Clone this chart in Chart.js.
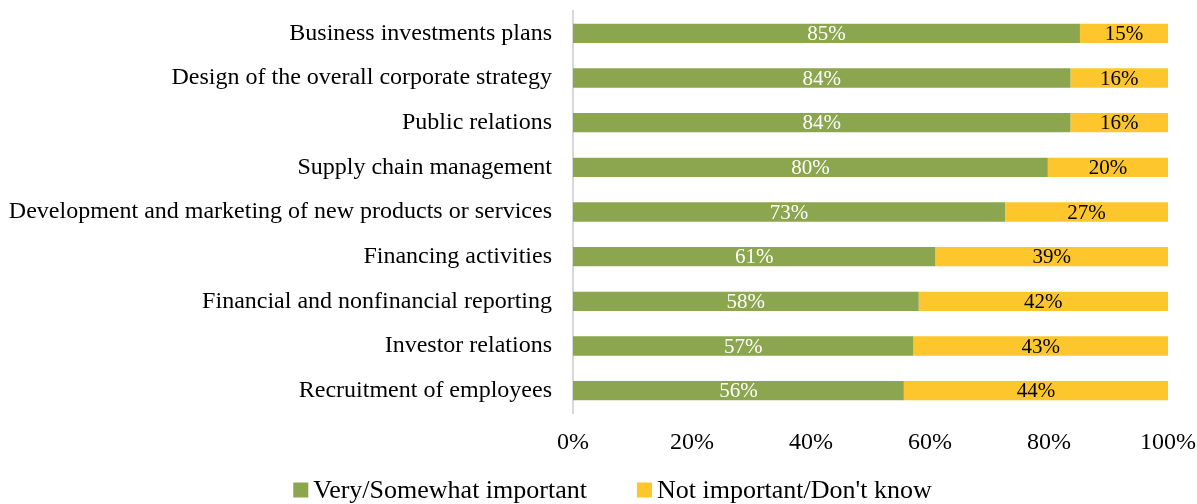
<!DOCTYPE html>
<html>
<head>
<meta charset="utf-8">
<script src="https://cdn.jsdelivr.net/npm/chart.js@4.4.1/dist/chart.umd.min.js"></script>
<style>
  html, body { margin: 0; padding: 0; background: #fff; }
  #wrap { width: 1197px; height: 504px; position: relative; }
</style>
</head>
<body>
<div id="wrap"><canvas id="c" width="1197" height="504"></canvas></div>
<script>
const categories = [
  "Business investments plans",
  "Design of the overall corporate strategy",
  "Public relations",
  "Supply chain management",
  "Development and marketing of new products or services",
  "Financing activities",
  "Financial and nonfinancial reporting",
  "Investor relations",
  "Recruitment of employees"
];
const seriesNames = ["Very/Somewhat important", "Not important/Don't know"];
const important = [85.2, 83.6, 83.6, 79.8, 72.6, 60.9, 58.1, 57.2, 55.6];
const notImportant = [14.8, 16.4, 16.4, 20.2, 27.4, 39.1, 41.9, 42.8, 44.4];
const xTicks = [0, 20, 40, 60, 80, 100];

const GREEN = '#8BA64E';
const YELLOW = '#FDC62D';
const SERIF = '"Liberation Serif", "Times New Roman", serif';

const dataLabelPlugin = {
  id: 'segLabels',
  afterDatasetsDraw(chart) {
    const ctx = chart.ctx;
    ctx.save();
    ctx.font = '21px ' + SERIF;
    ctx.textAlign = 'center';
    ctx.textBaseline = 'middle';
    chart.data.datasets.forEach((ds, di) => {
      const meta = chart.getDatasetMeta(di);
      ctx.fillStyle = di === 0 ? '#ffffff' : '#000000';
      meta.data.forEach((el, i) => {
        const p = el.getCenterPoint();
        ctx.fillText(Math.round(ds.data[i]) + '%', p.x, p.y + 1);
      });
    });
    ctx.restore();
  }
};

const legendPlugin = {
  id: 'customLegend',
  afterDraw(chart) {
    const ctx = chart.ctx;
    ctx.save();
    ctx.font = '26px ' + SERIF;
    ctx.textBaseline = 'middle';
    ctx.textAlign = 'left';
    const box = 15, gapText = 5, gapItem = 50;
    const items = chart.data.datasets.map(ds => ({ text: ds.label, color: ds.backgroundColor, w: ctx.measureText(ds.label).width }));
    let total = 0;
    items.forEach((it, i) => { total += box + gapText + it.w + (i < items.length - 1 ? gapItem : 0); });
    const cx = chart.width / 2 + 14;
    let x = cx - total / 2;
    const y = chart.height - 13;
    items.forEach(it => {
      ctx.fillStyle = it.color;
      ctx.fillRect(x, y - box / 2 - 1, box, box);
      x += box + gapText;
      ctx.fillStyle = '#000';
      ctx.fillText(it.text, x, y);
      x += it.w + gapItem;
    });
    ctx.restore();
  }
};

new Chart(document.getElementById('c'), {
  type: 'bar',
  data: {
    labels: categories,
    datasets: [
      { label: seriesNames[0], data: important, backgroundColor: GREEN, borderWidth: 0, barPercentage: 0.48, categoryPercentage: 0.9 },
      { label: seriesNames[1], data: notImportant, backgroundColor: YELLOW, borderWidth: 0, barPercentage: 0.48, categoryPercentage: 0.9 }
    ]
  },
  options: {
    indexAxis: 'y',
    responsive: false,
    animation: false,
    layout: { padding: { top: 11, right: 29, bottom: 48, left: 0 } },
    plugins: {
      legend: { display: false },
      tooltip: { enabled: false }
    },
    scales: {
      x: {
        stacked: true,
        min: 0,
        max: 100,
        afterBuildTicks(scale) { scale.ticks = xTicks.map(v => ({ value: v })); },
        grid: { display: false, drawTicks: false },
        border: { display: false },
        ticks: {
          padding: 15,
          color: '#000',
          font: { family: SERIF, size: 24 },
          maxRotation: 0,
          callback: v => v + '%'
        },
        afterFit(scale) { scale.paddingLeft = 0; scale.paddingRight = 0; scale.height = 43; }
      },
      y: {
        stacked: true,
        grid: { display: false, drawTicks: false },
        border: { display: true, color: '#D9D9D9', width: 2 },
        ticks: {
          padding: 21,
          color: '#000',
          font: { family: SERIF, size: 24 }
        },
        afterFit(scale) { scale.width = 573; scale.paddingTop = 0; scale.paddingBottom = 0; }
      }
    }
  },
  plugins: [dataLabelPlugin, legendPlugin]
});
</script>
</body>
</html>
